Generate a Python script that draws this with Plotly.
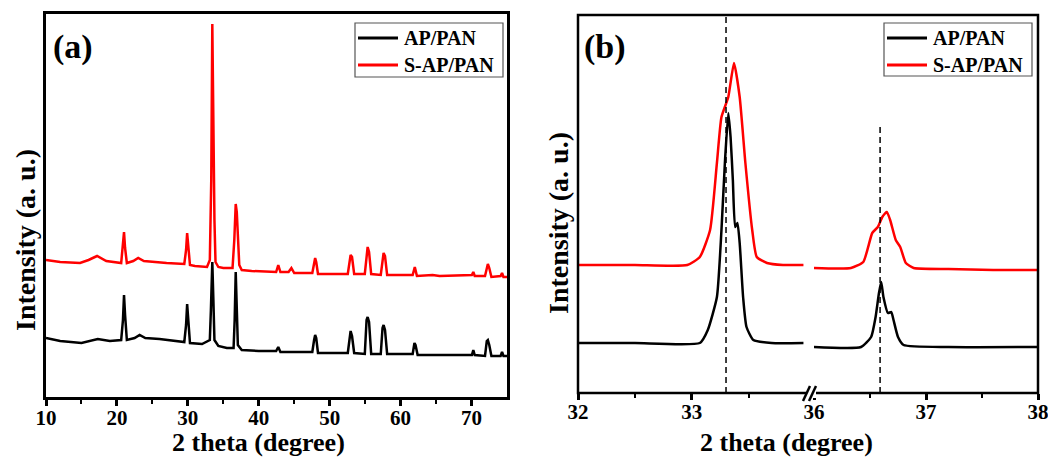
import plotly.graph_objects as go

# page body has an 8px default margin, so the figure is drawn 8px smaller and coordinates are shifted
OFF = 8
W, H = 1056 - OFF, 459 - OFF

# ---------------- Panel (a): full pattern ----------------
a_red_x = [10, 12, 14.8, 16, 17.2, 18.5, 20.6, 20.85, 21.0, 21.15, 21.4, 22.3, 23.0, 23.8, 25, 27,
           29.5, 29.75, 29.9, 30.05, 30.3, 31, 32.7, 33.1, 33.3, 33.45, 33.6, 33.75, 33.9, 34.3, 35,
           36.3, 36.55, 36.75, 36.9, 37.05, 37.25, 37.6, 39, 42.45, 42.75, 43.05, 44.2, 44.6, 45.0,
           47.55, 47.8, 47.95, 48.1, 48.35, 52.55, 52.8, 52.95, 53.15, 53.45, 54.95, 55.2, 55.35, 55.55, 55.85,
           57.2, 57.45, 57.6, 57.8, 58.1, 61.7, 62.0, 62.3, 64.5, 65.5, 70.05, 70.25, 70.45,
           71.9, 72.15, 72.3, 72.5, 72.8, 74.1, 74.3, 74.5, 75]
a_red_y = [137, 135, 134, 137, 141, 136, 134, 152, 165, 149, 134, 136, 139, 136, 135, 134,
           133, 147, 164, 149, 132, 131, 130, 137, 217, 373, 247, 177, 135, 130, 129,
           129, 157, 193, 185, 167, 132, 127, 126, 125, 132, 125, 125, 129, 124,
           124, 132, 139, 135, 123, 123, 135, 142, 140, 123, 123, 142, 150, 145, 123,
           122, 137, 144, 141, 122, 122, 130, 121, 122, 121, 122, 125, 121,
           121, 131, 133, 129, 120, 121, 124, 120, 120]

a_blk_x = [10, 12, 15, 17.3, 19, 20.6, 20.85, 21.0, 21.15, 21.4, 22.5, 23.2, 24, 26,
           29.5, 29.75, 29.9, 30.05, 30.3, 32, 33.1, 33.25, 33.45, 33.6, 33.75, 34.3, 35.5,
           36.45, 36.6, 36.75, 36.9, 37.05, 37.6, 40, 42.45, 42.75, 43.05,
           47.55, 47.8, 47.95, 48.1, 48.35, 52.55, 52.8, 52.95, 53.15, 53.45,
           54.95, 55.2, 55.35, 55.55, 55.85, 57.2, 57.45, 57.6, 57.8, 58.1,
           61.7, 61.95, 62.1, 62.4, 66, 70.05, 70.25, 70.45, 71.9, 72.15, 72.3, 72.5, 72.8,
           74.1, 74.3, 74.5, 75]
a_blk_y = [59, 56, 54, 58, 56, 57, 77, 102, 82, 57, 59, 62, 59, 58,
           55, 72, 93, 75, 54, 53, 57, 87, 135, 97, 57, 51, 49,
           49, 77, 125, 87, 52, 47, 46, 46, 50, 45,
           45, 57, 62, 59, 44, 44, 62, 66, 61, 44,
           43, 77, 80, 75, 43, 43, 69, 72, 67, 43,
           43, 54, 52, 42, 42, 42, 47, 42, 41, 56, 57, 52, 41,
           41, 45, 41, 41]

# ---------------- Panel (b): zoom with axis break ----------------
b_red_lx = [32.0, 32.5, 32.96, 33.07, 33.16, 33.22, 33.26, 33.32, 33.37, 33.42, 33.47, 33.53, 33.57, 33.66, 33.8, 33.98]
b_red_ly = [128, 128, 128, 136, 163, 230, 276, 296, 330, 296, 230, 163, 136, 130, 128, 128]
b_blk_lx = [32.0, 32.5, 33.07, 33.14, 33.22, 33.26, 33.29, 33.32, 33.34, 33.36, 33.38, 33.40, 33.42, 33.45, 33.48, 33.54, 33.7, 33.98]
b_blk_ly = [50, 50, 50, 63, 96, 163, 230, 280, 256, 213, 166, 170, 150, 96, 66, 53, 50, 50]

b_red_rx = [36.0, 36.33, 36.44, 36.52, 36.57, 36.61, 36.65, 36.68, 36.73, 36.77, 36.82, 36.89, 37.2, 37.6, 38.0]
b_red_ry = [125, 125, 131, 160, 166, 176, 181, 173, 153, 146, 130, 125, 124, 123, 123]
b_blk_rx = [36.0, 36.42, 36.51, 36.55, 36.58, 36.60, 36.62, 36.66, 36.69, 36.71, 36.75, 36.80, 37.2, 38.0]
b_blk_ry = [46, 46, 56, 76, 100, 111, 96, 80, 81, 73, 56, 48, 46, 46]

ref_lines = [33.3, 36.59]
series_names = ["AP/PAN", "S-AP/PAN"]
colors = ["#000000", "#ff0000"]
a_ticks = [10, 20, 30, 40, 50, 60, 70]
b_left_ticks = [32, 33]
b_right_ticks = [36, 37, 38]

FONT = "Liberation Serif"

def px(x):
    return (x - OFF) / W

def py(y):
    return 1 - (y - OFF) / H

fig = go.Figure()
lw = 2.5
fig.add_trace(go.Scatter(x=a_blk_x, y=a_blk_y, mode="lines", line=dict(color=colors[0], width=lw),
                         name=series_names[0], showlegend=False, xaxis="x", yaxis="y"))
fig.add_trace(go.Scatter(x=a_red_x, y=a_red_y, mode="lines", line=dict(color=colors[1], width=lw),
                         name=series_names[1], showlegend=False, xaxis="x", yaxis="y"))
sm = dict(shape="spline", smoothing=0.5)
fig.add_trace(go.Scatter(x=b_blk_lx, y=b_blk_ly, mode="lines", line=dict(color=colors[0], width=lw, **sm),
                         name=series_names[0], showlegend=False, xaxis="x2", yaxis="y2"))
fig.add_trace(go.Scatter(x=b_red_lx, y=b_red_ly, mode="lines", line=dict(color=colors[1], width=lw, **sm),
                         name=series_names[1], showlegend=False, xaxis="x2", yaxis="y2"))
fig.add_trace(go.Scatter(x=b_blk_rx, y=b_blk_ry, mode="lines", line=dict(color=colors[0], width=lw, **sm),
                         name=series_names[0], showlegend=False, xaxis="x3", yaxis="y2"))
fig.add_trace(go.Scatter(x=b_red_rx, y=b_red_ry, mode="lines", line=dict(color=colors[1], width=lw, **sm),
                         name=series_names[1], showlegend=False, xaxis="x3", yaxis="y2"))

tickfont = dict(family=FONT, size=21, color="black", weight="bold")
common_x = dict(ticks="outside", ticklen=6, tickwidth=2.5, tickcolor="black", showgrid=False,
                zeroline=False, tickfont=tickfont, automargin=False, ticklabelstandoff=-6)

a_x0, a_x1, a_top, a_bot = 46, 507, 14, 397
b_x0, b_xm0, b_xm1, b_x1, b_top, b_bot = 578, 808, 814, 1038, 15, 393

minor = dict(ticks="outside", ticklen=4, tickwidth=2, tickcolor="black")
fig.update_layout(
    width=W, height=H, margin=dict(l=0, r=0, t=0, b=0, autoexpand=False),
    paper_bgcolor="white", plot_bgcolor="white", showlegend=False,
    xaxis=dict(domain=[px(a_x0), px(a_x1)], range=[10, 75], anchor="y", tickmode="array", tickvals=a_ticks,
               minor=dict(tickmode="array", tickvals=[15, 25, 35, 45, 55, 65], **minor),
               showline=True, linewidth=2.5, linecolor="black", mirror=True, **common_x),
    yaxis=dict(domain=[py(a_bot), py(a_top)], range=[0, 383], anchor="x", showticklabels=False, ticks="",
               showgrid=False, zeroline=False, showline=True, linewidth=2.5, linecolor="black", mirror=True,
               automargin=False),
    xaxis2=dict(domain=[px(b_x0), px(b_xm0)], range=[32, 34.02], anchor="y2", tickmode="array",
                tickvals=b_left_ticks, minor=dict(tickmode="array", tickvals=[32.5, 33.5], **minor),
                showline=False, **common_x),
    xaxis3=dict(domain=[px(b_xm1), px(b_x1)], range=[36, 38], anchor="y2", tickmode="array",
                tickvals=b_right_ticks, minor=dict(tickmode="array", tickvals=[36.5, 37.5], **minor),
                showline=False, **common_x),
    yaxis2=dict(domain=[py(b_bot), py(b_top)], range=[0, 378], anchor="x2", showticklabels=False, ticks="",
                showgrid=False, zeroline=False, showline=False, automargin=False),
)

shapes = []
# frame of panel (b)
shapes.append(dict(type="rect", xref="paper", yref="paper", x0=px(b_x0), x1=px(b_x1), y0=py(b_bot), y1=py(b_top),
                   line=dict(color="black", width=2.5), layer="above"))
# axis break marks
shapes.append(dict(type="rect", xref="paper", yref="paper", x0=px(806), x1=px(816), y0=py(398), y1=py(388),
                   fillcolor="white", line=dict(width=0), layer="above"))
for dx in (0, 6):
    shapes.append(dict(type="line", xref="paper", yref="paper", x0=px(803 + dx), y0=py(401),
                       x1=px(810 + dx), y1=py(386), line=dict(color="black", width=2.5), layer="above"))
# dashed reference lines
shapes.append(dict(type="line", xref="x2", yref="y2", x0=ref_lines[0], x1=ref_lines[0], y0=0, y1=378,
                   line=dict(color="black", width=1.5, dash="6px,4px")))
shapes.append(dict(type="line", xref="x3", yref="y2", x0=ref_lines[1], x1=ref_lines[1], y0=0, y1=266,
                   line=dict(color="black", width=1.5, dash="6px,4px")))

bold = dict(family=FONT, color="black", weight="bold")
ann = []
# manual legends (one per panel)
legends = [dict(box=(355, 503, 23, 77), line=(358, 398), text_x=402, rows=(38, 65)),
           dict(box=(884, 1032, 23, 76), line=(887, 927), text_x=931, rows=(38, 65))]
for lg in legends:
    bx0, bx1, by0, by1 = lg["box"]
    shapes.append(dict(type="rect", xref="paper", yref="paper", x0=px(bx0), x1=px(bx1), y0=py(by1), y1=py(by0),
                       fillcolor="white", line=dict(color="#555555", width=1.2), layer="above"))
    for name, col, ry in zip(series_names, colors, lg["rows"]):
        shapes.append(dict(type="line", xref="paper", yref="paper", x0=px(lg["line"][0]), x1=px(lg["line"][1]),
                           y0=py(ry), y1=py(ry), line=dict(color=col, width=3), layer="above"))
        ann.append(dict(text=name, x=px(lg["text_x"]), y=py(ry), xref="paper", yref="paper",
                        xanchor="left", yanchor="middle", showarrow=False, font=dict(size=20, **bold)))
fig.update_layout(shapes=shapes)

ann.append(dict(text="(a)", x=px(51), y=py(47), xref="paper", yref="paper", xanchor="left", yanchor="middle",
                showarrow=False, font=dict(size=34, **bold)))
ann.append(dict(text="(b)", x=px(582), y=py(47), xref="paper", yref="paper", xanchor="left", yanchor="middle",
                showarrow=False, font=dict(size=34, **bold)))
ann.append(dict(text="Intensity (a. u.)", x=px(25), y=py(240), xref="paper", yref="paper", textangle=-90,
                xanchor="center", yanchor="middle", showarrow=False, font=dict(size=28, **bold)))
ann.append(dict(text="Intensity (a. u.)", x=px(558), y=py(223), xref="paper", yref="paper", textangle=-90,
                xanchor="center", yanchor="middle", showarrow=False, font=dict(size=28, **bold)))
ann.append(dict(text="2 theta (degree)", x=px(258), y=py(442), xref="paper", yref="paper",
                xanchor="center", yanchor="middle", showarrow=False, font=dict(size=26, **bold)))
ann.append(dict(text="2 theta (degree)", x=px(786), y=py(442), xref="paper", yref="paper",
                xanchor="center", yanchor="middle", showarrow=False, font=dict(size=26, **bold)))
fig.update_layout(annotations=ann)

fig.write_html("out.html")
